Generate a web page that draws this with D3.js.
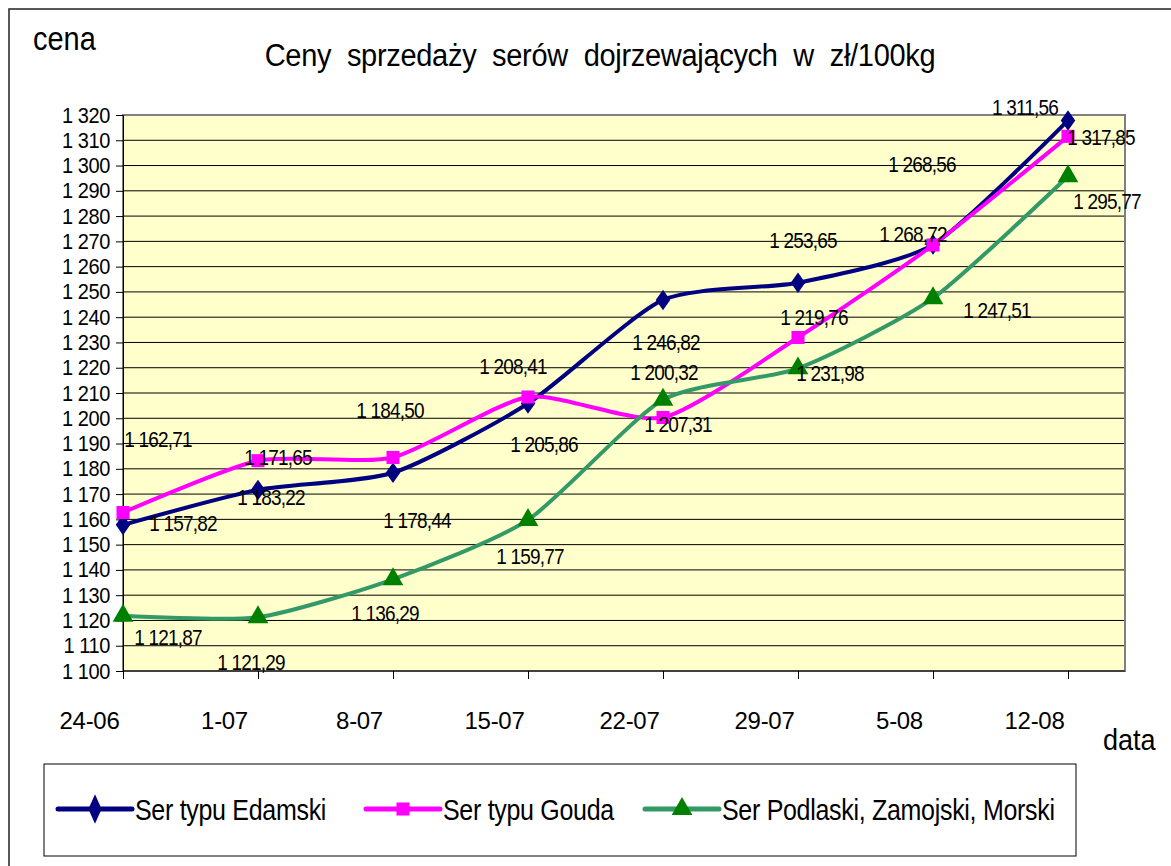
<!DOCTYPE html>
<html>
<head>
<meta charset="utf-8">
<script src="https://cdn.jsdelivr.net/npm/d3@7"></script>
<style>
  body { margin: 0; background: #fff; }
  svg text { font-family: "Liberation Sans", Arial, sans-serif; fill: #000; }
</style>
</head>
<body>
<div id="chart"></div>
<script>
// data
var categories = ["24-06", "1-07", "8-07", "15-07", "22-07", "29-07", "5-08", "12-08"];
var edamski = [1157.82, 1171.65, 1178.44, 1205.86, 1246.82, 1253.65, 1268.72, 1317.85];
var gouda = [1162.71, 1183.22, 1184.50, 1208.41, 1200.32, 1231.98, 1268.56, 1311.56];
var podlaski = [1121.87, 1121.29, 1136.29, 1159.77, 1207.31, 1219.76, 1247.51, 1295.77];
var seriesNames = ["Ser typu Edamski", "Ser typu Gouda", "Ser Podlaski, Zamojski, Morski"];
var yTicks = d3.range(1100, 1321, 10);

// where each data label sits relative to its point (px)
var labelOffsets = [
  [[60, -2], [20, -33], [24, 47], [16, 40], [3, 42], [5, -43], [-20, -11], [33, 16]],
  [[35, -74], [13, 36], [-3, -48], [-15, -31], [1, -46], [32, 35], [-11, -81], [-43, -30]],
  [[45, 21], [-7, 45], [-8, 33], [2, 36], [15, 24], [16, -52], [64, 12], [39, 25]]
];

var styles = [
  { line: "#000080", marker: "#000080", shape: d3.symbolDiamond, size: 150 },
  { line: "#FF00FF", marker: "#FF00FF", shape: d3.symbolSquare, size: 170 },
  { line: "#339966", marker: "#008000", shape: d3.symbolTriangle, size: 185 }
];

var width = 1171, height = 866,
    plot = { left: 123, right: 1125, top: 115, bottom: 671 };

var pl = d3.formatLocale({ decimal: ",", thousands: " ", grouping: [3], currency: ["", ""] });
var fmtTick = pl.format(",d"),
    fmtVal = pl.format(",.2f");

var series = [edamski, gouda, podlaski].map(function (vals, s) {
  return { name: seriesNames[s], values: vals, style: styles[s], offsets: labelOffsets[s] };
});

var x = d3.scaleLinear().domain([0, categories.length - 1]).range([plot.left, 1068]);
var y = d3.scaleLinear().domain([1100, 1320]).range([plot.bottom, plot.top]);

var svg = d3.select("#chart").append("svg")
    .attr("width", width)
    .attr("height", height);

// outer chart frame (runs off the page right and bottom)
svg.append("rect")
  .attr("x", 9).attr("y", 9)
  .attr("width", 1200).attr("height", 900)
  .attr("fill", "none")
  .attr("stroke", "#222")
  .attr("stroke-width", 1.5);

// plot area
svg.append("rect")
  .attr("x", plot.left).attr("y", plot.top)
  .attr("width", plot.right - plot.left).attr("height", plot.bottom - plot.top)
  .attr("fill", "#FFFFCC");

svg.append("g").selectAll("line")
  .data(yTicks)
  .enter().append("line")
    .attr("x1", plot.left).attr("x2", plot.right)
    .attr("y1", function (d) { return y(d); })
    .attr("y2", function (d) { return y(d); })
    .attr("stroke", "#000")
    .attr("stroke-width", 1);

svg.append("rect")
  .attr("x", plot.left).attr("y", plot.top)
  .attr("width", plot.right - plot.left).attr("height", plot.bottom - plot.top)
  .attr("fill", "none")
  .attr("stroke", "#808080")
  .attr("stroke-width", 2);

// y axis
var yAxis = svg.append("g")
  .attr("transform", "translate(" + plot.left + ",0)")
  .call(d3.axisLeft(y).tickValues(yTicks).tickSize(7).tickPadding(6).tickFormat(fmtTick));
yAxis.select(".domain").attr("stroke", "#000");
yAxis.selectAll("line").attr("stroke", "#000");
yAxis.selectAll("text")
  .attr("font-size", 20)
  .attr("letter-spacing", -0.4)
  .attr("transform", "scale(1,1.1)");

// x axis
var xAxis = svg.append("g")
  .attr("transform", "translate(0," + plot.bottom + ")")
  .call(d3.axisBottom(x).tickValues(d3.range(categories.length)).tickSize(8).tickPadding(33)
    .tickFormat(function (i) { return categories[i]; }));
xAxis.select(".domain").attr("stroke", "#000").attr("d", "M" + plot.left + ",0H" + plot.right);
xAxis.selectAll("line").attr("stroke", "#000");
xAxis.selectAll("text")
  .attr("font-size", 24)
  .attr("letter-spacing", -0.3)
  .attr("x", -34);

// series lines
var line = d3.line()
  .x(function (d, i) { return x(i); })
  .y(function (d) { return y(d); })
  .curve(d3.curveCardinal.tension(0.35));

var gSeries = svg.append("g").selectAll("g")
  .data(series)
  .enter().append("g");

gSeries.append("path")
  .attr("d", function (d) { return line(d.values); })
  .attr("fill", "none")
  .attr("stroke", function (d) { return d.style.line; })
  .attr("stroke-width", 4)
  .attr("stroke-linejoin", "round");

gSeries.selectAll(".marker")
  .data(function (d) { return d.values.map(function (v, i) { return { v: v, i: i, s: d.style }; }); })
  .enter().append("path")
    .attr("class", "marker")
    .attr("transform", function (d) { return "translate(" + x(d.i) + "," + y(d.v) + ")" + (d.s.shape === d3.symbolDiamond ? " scale(1.1,0.9)" : ""); })
    .attr("d", function (d) { return d3.symbol().type(d.s.shape).size(d.s.size)(); })
    .attr("fill", function (d) { return d.s.marker; });

// data labels
svg.append("g").selectAll("g")
  .data(series)
  .enter().append("g")
  .selectAll("text")
  .data(function (d) { return d.values.map(function (v, i) { return { v: v, i: i, off: d.offsets[i] }; }); })
  .enter().append("text")
    .attr("transform", function (d) {
      return "translate(" + (x(d.i) + d.off[0]) + "," + (y(d.v) + d.off[1]) + ") scale(1,1.2)";
    })
    .attr("dy", "0.36em")
    .attr("text-anchor", "middle")
    .attr("font-size", 19)
    .attr("letter-spacing", -0.8)
    .text(function (d) { return fmtVal(d.v); });

// titles
svg.append("text")
  .attr("transform", "translate(600,66) scale(1,1.05)")
  .attr("text-anchor", "middle")
  .attr("font-size", 29)
  .attr("letter-spacing", -0.3)
  .attr("word-spacing", 8)
  .text("Ceny sprzedaży serów dojrzewających w zł/100kg");

svg.append("text")
  .attr("transform", "translate(33,50) scale(1,1.12)")
  .attr("font-size", 29)
  .text("cena");

svg.append("text")
  .attr("transform", "translate(1103,750) scale(1,1.08)")
  .attr("font-size", 27)
  .text("data");

// legend
var legend = svg.append("g");
legend.append("rect")
  .attr("x", 44).attr("y", 764)
  .attr("width", 1076 - 44).attr("height", 856 - 764)
  .attr("fill", "#fff")
  .attr("stroke", "#000")
  .attr("stroke-width", 1);

var legendX = [58, 366, 645];
var item = legend.selectAll(".item")
  .data(series)
  .enter().append("g")
    .attr("class", "item")
    .attr("transform", function (d, i) { return "translate(" + legendX[i] + ",809)"; });

item.append("line")
  .attr("x1", 0).attr("x2", 74)
  .attr("stroke", function (d) { return d.style.line; })
  .attr("stroke-width", 5)
  .attr("stroke-linecap", "round");

item.append("path")
  .attr("transform", function (d) { return "translate(37,0)" + (d.style.shape === d3.symbolDiamond ? " scale(1,1.3)" : ""); })
  .attr("d", function (d) { return d3.symbol().type(d.style.shape).size(d.style.size)(); })
  .attr("fill", function (d) { return d.style.marker; });

item.append("text")
  .attr("transform", "translate(77,0) scale(1,1.2)")
  .attr("dy", "0.36em")
  .attr("font-size", 25)
  .attr("letter-spacing", -0.3)
  .text(function (d) { return d.name; });
</script>
</body>
</html>
